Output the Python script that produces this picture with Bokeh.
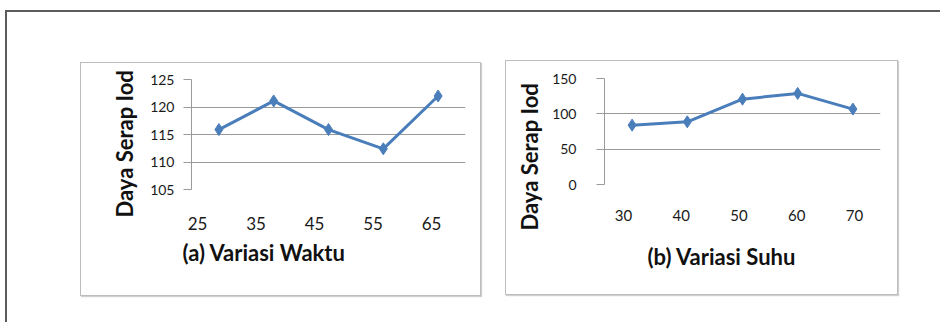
from bokeh.plotting import figure
from bokeh.layouts import row, column
from bokeh.models import Spacer, Range1d, LinearAxis, FixedTicker, Title
from bokeh.embed import file_html
from bokeh.resources import INLINE

# ---- data ----
waktu = ["25", "35", "45", "55", "65"]
daya_waktu = [115.9, 121.1, 115.9, 112.4, 122.0]
yticks_waktu = [105, 110, 115, 120, 125]

suhu = ["30", "40", "50", "60", "70"]
daya_suhu = [84.0, 88.7, 120.8, 128.9, 106.7]
yticks_suhu = [0, 50, 100, 150]

ylabel = "Daya Serap Iod"
title_a = "(a) Variasi Waktu"
title_b = "(b) Variasi Suhu"

FONT = "Lato"
BLUE = "#4a7ebb"
GRID = "#9a9a9a"


def panel(cats, vals, yticks, lbl_range, title, w, h, mb, ystand, xstand,
          xfs, yfs, title_off, ytitle_off, ytitle_stand, xtitle_stand):
    n = len(cats)
    # category slots (Excel-style: points in the middle of each slot)
    xpos = [i + 0.5 for i in range(n)]
    p = figure(width=w, height=h, x_range=Range1d(0, n),
               y_range=Range1d(min(yticks), max(yticks)),
               x_axis_location=None, toolbar_location=None,
               output_backend="svg",
               min_border_left=mb[0], min_border_right=mb[1],
               min_border_top=mb[2], min_border_bottom=mb[3],
               styles={"border": "1px solid #bdbdbd",
                       "box-shadow": "1px 1px 1px #d0d0d0"})
    p.outline_line_color = None
    p.background_fill_color = "white"
    p.border_fill_color = "white"
    p.xgrid.grid_line_color = None
    p.ygrid.grid_line_color = GRID
    p.ygrid.ticker = FixedTicker(ticks=yticks)

    ya = p.yaxis[0]
    ya.ticker = FixedTicker(ticks=yticks)
    ya.axis_line_color = GRID
    ya.major_tick_line_color = GRID
    ya.major_tick_out = 8
    ya.major_tick_in = 0
    ya.minor_tick_line_color = None
    ya.major_label_standoff = ystand
    ya.major_label_text_font = FONT
    ya.major_label_text_font_size = yfs
    ya.major_label_text_color = "#1a1a1a"

    p.line(xpos, vals, line_color=BLUE, line_width=3)
    p.scatter(xpos, vals, marker="diamond", size=12, fill_color=BLUE,
              line_color=BLUE)

    # category tick labels as printed in the figure
    p.extra_x_ranges = {"lbl": Range1d(*lbl_range)}
    xa = LinearAxis(x_range_name="lbl",
                    ticker=FixedTicker(ticks=[int(c) for c in cats]))
    xa.axis_line_color = None
    xa.major_tick_line_color = None
    xa.minor_tick_line_color = None
    xa.major_tick_out = 0
    xa.major_tick_in = 0
    xa.major_label_standoff = xstand
    xa.major_label_text_font = FONT
    xa.major_label_text_font_size = xfs
    xa.major_label_text_color = "#1a1a1a"
    p.add_layout(xa, "below")

    p.add_layout(Title(text=title, align="left", offset=title_off,
                       standoff=xtitle_stand, text_font=FONT,
                       text_font_size="22px", text_font_style="bold",
                       text_color="#111111"), "below")
    p.add_layout(Title(text=ylabel, align="left", offset=ytitle_off,
                       standoff=ytitle_stand, text_font=FONT,
                       text_font_size="22px", text_font_style="bold",
                       text_color="#111111"), "left")
    return p


pa = panel(waktu, daya_waktu, yticks_waktu, (23.97, 70.81), title_a,
           401, 234, (110, 17, 16, 108), 9, 27, "17px", "14px",
           -9, -28, 20, 9)
pb = panel(suhu, daya_suhu, yticks_suhu, (26.71, 74.50), title_b,
           393, 235, (98, 19, 17, 112), 20, 25, "15px", "14px",
           43, -46, 13, 34)

inner = row(Spacer(width=73), column(Spacer(height=50), pa),
            Spacer(width=24), column(Spacer(height=48), pb),
            Spacer(width=42))
framed = column(inner, Spacer(height=26),
                styles={"border-left": "2px solid #5c5c5c",
                        "border-top": "2px solid #5c5c5c"})
root = column(Spacer(height=10), row(Spacer(width=5), framed))

open("out.html", "w").write(file_html(root, INLINE))
